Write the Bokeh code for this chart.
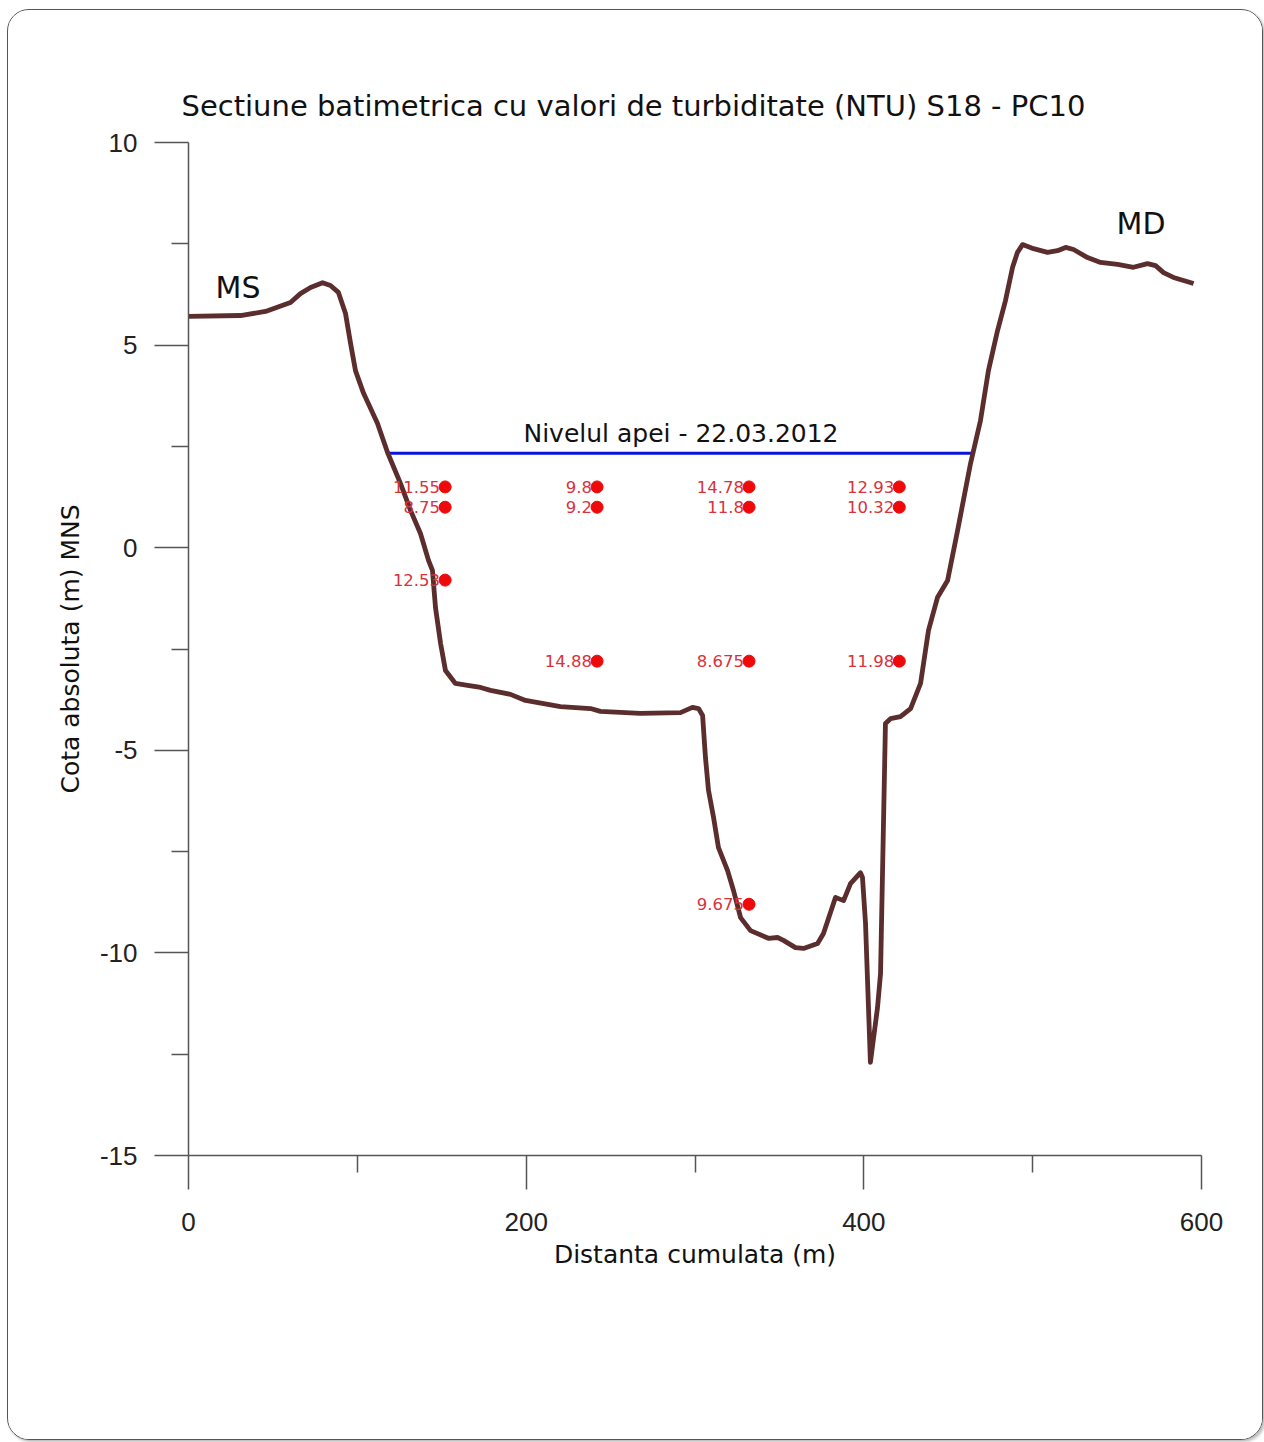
from bokeh.plotting import figure
from bokeh.models import ColumnDataSource, Range1d, FixedTicker, Label, LabelSet
from bokeh.embed import file_html
from bokeh.resources import INLINE
from bokeh.core.properties import value

# --- data -------------------------------------------------------------
dist = [0, 30.8, 45.6, 60.4, 66.3, 72.3, 79.4, 84.1, 88.8, 93.0, 96.0, 98.9,
        103.7, 111.9, 117.9, 125.6, 131.5, 137.4, 142.2, 144.5, 146.3, 149.3,
        152.2, 158.1, 165.3, 173.0, 178.9, 190.7, 199.6, 220.3, 238.1, 244.0,
        267.7, 291.4, 298.5, 302.1, 304.5, 306.2, 308.0, 311.0, 313.9, 319.3,
        322.8, 327.0, 332.9, 343.5, 348.9, 352.4, 359.5, 364.3, 372.6, 376.1,
        383.2, 388.0, 392.1, 398.0, 399.2, 401.0, 403.9, 408.1, 409.9, 412.8,
        415.8, 421.7, 427.7, 433.6, 438.3, 443.6, 449.6, 455.5, 463.2, 469.1,
        473.8, 479.2, 483.9, 488.1, 491.0, 494.0, 500.5, 508.8, 514.7, 519.5,
        524.2, 532.5, 540.2, 550.3, 559.7, 568.0, 572.8, 577.5, 583.4, 595.3]
elev = [5.71, 5.73, 5.83, 6.05, 6.27, 6.42, 6.54, 6.47, 6.30, 5.78, 5.04, 4.37,
        3.81, 3.07, 2.35, 1.58, 0.92, 0.35, -0.32, -0.56, -1.48, -2.36,
        -3.03, -3.35, -3.40, -3.45, -3.52, -3.62, -3.77, -3.92, -3.97, -4.04,
        -4.09, -4.07, -3.94, -3.97, -4.14, -5.18, -5.99, -6.66, -7.40, -7.97,
        -8.46, -9.13, -9.45, -9.64, -9.62, -9.69, -9.87, -9.89, -9.77, -9.52,
        -8.63, -8.71, -8.29, -8.02, -8.14, -9.27, -12.70, -11.35, -10.51, -4.34,
        -4.22, -4.17, -3.97, -3.35, -2.04, -1.23, -0.81, 0.42, 2.08, 3.14,
        4.37, 5.36, 6.10, 6.92, 7.29, 7.48, 7.38, 7.29, 7.33, 7.41,
        7.36, 7.16, 7.04, 6.99, 6.92, 7.01, 6.96, 6.79, 6.67, 6.52]

water_x = [117.5, 464.0]
water_level = [2.33, 2.33]

pt_x = [152, 152, 152, 242, 242, 242, 332, 332, 332, 332, 421, 421, 421]
pt_y = [1.5, 1.0, -0.8, 1.5, 1.0, -2.8, 1.5, 1.0, -2.8, -8.8, 1.5, 1.0, -2.8]
pt_lab = ["11.55", "8.75", "12.53", "9.8", "9.2", "14.88", "14.78", "11.8",
          "8.675", "9.675", "12.93", "10.32", "11.98"]

x_ticks = [0, 200, 400, 600]
x_minor = [100, 300, 500]
y_ticks = [-15, -10, -5, 0, 5, 10]
y_minor = [-12.5, -7.5, -2.5, 2.5, 7.5]

title = "Sectiune batimetrica cu valori de turbiditate (NTU) S18 - PC10"
# ----------------------------------------------------------------------

FONT = "DejaVu Sans"

p = figure(width=1256, height=1431, x_range=Range1d(0, 600), y_range=Range1d(-15, 10),
           output_backend="svg", toolbar_location=None,
           min_border_left=180, min_border_right=63, min_border_top=132, min_border_bottom=286)
p.styles = {"border": "1.5px solid #555", "border-radius": "22px", "overflow": "hidden",
            "box-shadow": "2px 2px 3px #bbb", "margin-left": "7px", "margin-top": "9px"}
p.background_fill_color = "white"
p.border_fill_color = "white"
p.outline_line_color = None
p.grid.visible = False

p.title.text = title
p.title.align = "left"
p.title.offset = -7
p.title.standoff = 39
p.title.text_font = FONT
p.title.text_font_size = "29px"
p.title.text_font_style = "normal"
p.title.text_color = "#111111"

for ax, ticks, minor in ((p.xaxis[0], x_ticks, x_minor), (p.yaxis[0], y_ticks, y_minor)):
    ax.ticker = FixedTicker(ticks=ticks, minor_ticks=minor)
    ax.major_label_overrides = {t: str(t) for t in ticks}
    ax.axis_line_color = "#555555"
    ax.axis_line_width = 1.5
    ax.major_tick_line_color = "#555555"
    ax.major_tick_line_width = 1.5
    ax.minor_tick_line_color = "#555555"
    ax.minor_tick_line_width = 1.5
    ax.major_tick_in = 0
    ax.major_tick_out = 34
    ax.minor_tick_in = 0
    ax.minor_tick_out = 17
    ax.major_label_text_font = "Liberation Sans"
    ax.major_label_text_font_size = "26px"
    ax.major_label_text_color = "#222222"
    ax.axis_label_text_font = FONT
    ax.axis_label_text_font_size = "25px"
    ax.axis_label_text_font_style = "normal"
    ax.axis_label_text_color = "#111111"

p.xaxis.axis_label = "Distanta cumulata (m)"
p.yaxis.axis_label = "Cota absoluta (m) MNS"
p.xaxis.major_label_standoff = 23
p.yaxis.major_label_standoff = 17
p.xaxis.axis_label_standoff = 6
p.yaxis.axis_label_standoff = 12

# water level
p.line(water_x, water_level, line_color="#0a14d8", line_width=3)
p.add_layout(Label(x=291.7, y=2.82, text="Nivelul apei - 22.03.2012", text_align="center",
                   text_baseline="middle", text_font=FONT, text_font_size="25px",
                   text_color="#111111"))

# turbidity labels
src = ColumnDataSource(dict(x=pt_x, y=pt_y, lab=pt_lab))
p.add_layout(LabelSet(x="x", y="y", text="lab", source=src, x_offset=-5, y_offset=0,
                      text_align="right", text_baseline="middle", text_font=value(FONT),
                      text_font_size=value("16.5px"), text_color=value("#d8323c")))

# profile
p.line(dist, elev, line_color="#5b2d2d", line_width=4.8, line_join="round")

p.scatter("x", "y", source=src, size=12, fill_color="#ee0a0a", line_color="#ee0a0a")

p.add_layout(Label(x=16, y=6.42, text="MS", text_align="left", text_baseline="middle",
                   text_font=FONT, text_font_size="30px", text_color="#111111"))
p.add_layout(Label(x=549.7, y=8.0, text="MD", text_align="left", text_baseline="middle",
                   text_font=FONT, text_font_size="30px", text_color="#111111"))

open("out.html", "w").write(file_html(p, INLINE))
